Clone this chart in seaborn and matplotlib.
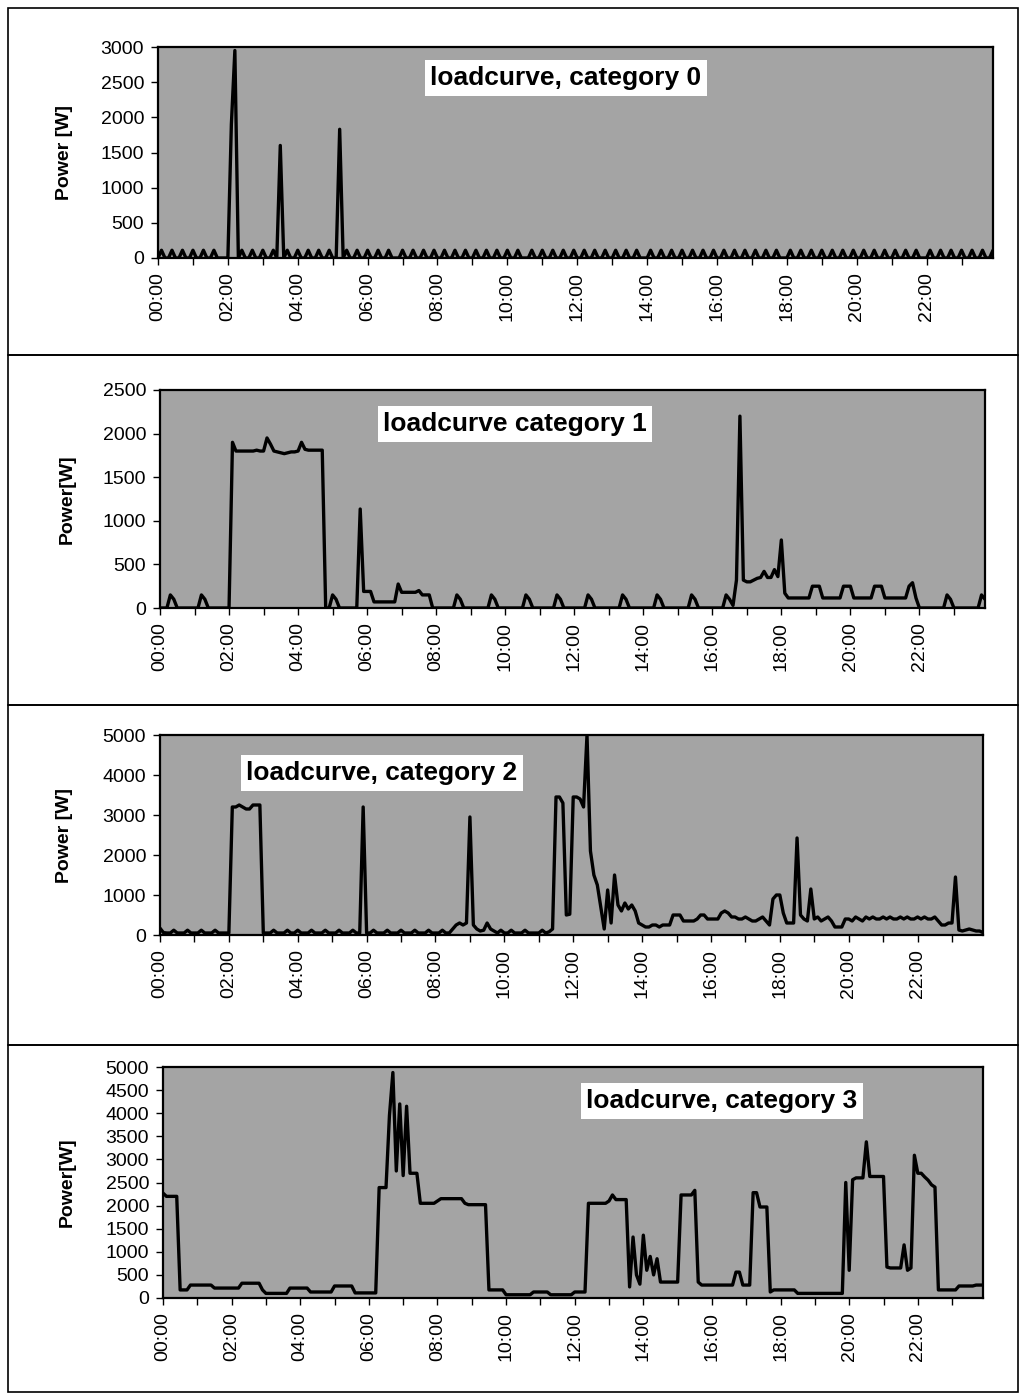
import numpy as np
import pandas as pd
import matplotlib
matplotlib.use("Agg")
import matplotlib.pyplot as plt
import seaborn as sns
from matplotlib.patches import Rectangle

# ---------------- data (6-minute samples, one row = one hour) ----------------
SAMPLE_MINUTES = list(range(0, 1440, 6))
HOUR_LABELS = ["00:00", "02:00", "04:00", "06:00", "08:00", "10:00",
               "12:00", "14:00", "16:00", "18:00", "20:00", "22:00"]

TITLES = ["loadcurve, category 0", "loadcurve category 1",
          "loadcurve, category 2", "loadcurve, category 3"]
YLABELS = ["Power [W]", "Power[W]", "Power [W]", "Power[W]"]
YMAX = [3000, 2500, 5000, 5000]
YSTEP = [500, 500, 1000, 500]

cat0 = [
    0, 110, 0, 0, 110, 0, 0, 110, 0, 0,
    110, 0, 0, 110, 0, 0, 110, 0, 0, 0,
    0, 1900, 2950, 0, 110, 0, 0, 110, 0, 0,
    110, 0, 0, 110, 0, 1600, 0, 110, 0, 0,
    110, 0, 0, 110, 0, 0, 110, 0, 0, 110,
    0, 0, 1830, 0, 110, 0, 0, 110, 0, 0,
    110, 0, 0, 110, 0, 0, 110, 0, 0, 0,
    110, 0, 0, 110, 0, 0, 110, 0, 0, 110,
    0, 0, 110, 0, 0, 110, 0, 0, 110, 0,
    0, 110, 0, 0, 110, 0, 0, 110, 0, 0,
    110, 0, 0, 110, 0, 0, 0, 110, 0, 0,
    110, 0, 0, 110, 0, 0, 110, 0, 0, 110,
    0, 0, 110, 0, 0, 110, 0, 0, 110, 0,
    0, 110, 0, 0, 110, 0, 0, 110, 0, 0,
    0, 110, 0, 0, 110, 0, 0, 110, 0, 0,
    110, 0, 0, 110, 0, 0, 110, 0, 0, 110,
    0, 0, 110, 0, 0, 110, 0, 0, 110, 0,
    0, 110, 0, 0, 110, 0, 0, 110, 0, 0,
    0, 110, 0, 0, 110, 0, 0, 110, 0, 0,
    110, 0, 0, 110, 0, 0, 110, 0, 0, 110,
    0, 0, 110, 0, 0, 110, 0, 0, 110, 0,
    0, 110, 0, 0, 110, 0, 0, 110, 0, 0,
    0, 110, 0, 0, 110, 0, 0, 110, 0, 0,
    110, 0, 0, 110, 0, 0, 110, 0, 0, 110,
]

cat1 = [
    0, 0, 0, 150, 100, 0, 0, 0, 0, 0,
    0, 0, 150, 100, 0, 0, 0, 0, 0, 0,
    0, 1900, 1800, 1800, 1800, 1800, 1800, 1800, 1810, 1800,
    1800, 1950, 1880, 1800, 1790, 1780, 1770, 1780, 1790, 1790,
    1800, 1900, 1820, 1810, 1810, 1810, 1810, 1810, 0, 0,
    150, 100, 0, 0, 0, 0, 0, 0, 1135, 190,
    190, 190, 70, 70, 70, 70, 70, 70, 70, 275,
    180, 180, 180, 180, 180, 200, 150, 150, 150, 0,
    0, 0, 0, 0, 0, 0, 150, 100, 0, 0,
    0, 0, 0, 0, 0, 0, 150, 100, 0, 0,
    0, 0, 0, 0, 0, 0, 150, 100, 0, 0,
    0, 0, 0, 0, 0, 150, 100, 0, 0, 0,
    0, 0, 0, 0, 150, 100, 0, 0, 0, 0,
    0, 0, 0, 0, 150, 100, 0, 0, 0, 0,
    0, 0, 0, 0, 150, 100, 0, 0, 0, 0,
    0, 0, 0, 0, 150, 100, 0, 0, 0, 0,
    0, 0, 0, 0, 150, 100, 30, 320, 2200, 320,
    300, 300, 320, 340, 350, 420, 350, 350, 440, 360,
    780, 170, 115, 115, 115, 115, 115, 115, 115, 250,
    250, 250, 115, 115, 115, 115, 115, 115, 250, 250,
    250, 115, 115, 115, 115, 115, 115, 250, 250, 250,
    115, 115, 115, 115, 115, 115, 115, 250, 290, 115,
    0, 0, 0, 0, 0, 0, 0, 0, 150, 100,
    0, 0, 0, 0, 0, 0, 0, 0, 150, 100,
]

cat2 = [
    170, 60, 50, 50, 120, 50, 50, 50, 120, 50,
    50, 50, 120, 50, 50, 50, 120, 50, 50, 50,
    50, 3200, 3200, 3250, 3200, 3150, 3150, 3250, 3250, 3250,
    50, 50, 50, 120, 50, 50, 50, 120, 50, 50,
    120, 50, 50, 50, 120, 50, 50, 50, 120, 50,
    50, 50, 120, 50, 50, 50, 120, 50, 50, 3200,
    50, 50, 120, 50, 50, 50, 120, 50, 50, 50,
    120, 50, 50, 50, 120, 50, 50, 50, 120, 50,
    50, 50, 120, 50, 50, 150, 250, 300, 250, 300,
    2950, 250, 150, 100, 120, 300, 150, 100, 50, 120,
    50, 50, 120, 50, 50, 50, 120, 50, 50, 50,
    50, 120, 50, 80, 150, 3450, 3450, 3300, 500, 520,
    3450, 3450, 3400, 3200, 5000, 2100, 1500, 1250, 700, 150,
    1125, 300, 1500, 750, 600, 800, 650, 750, 600, 300,
    250, 200, 200, 250, 250, 200, 250, 250, 250, 500,
    500, 500, 350, 350, 350, 350, 400, 500, 500, 400,
    400, 400, 400, 550, 600, 550, 450, 450, 400, 400,
    450, 400, 350, 350, 400, 450, 350, 250, 900, 1000,
    1000, 550, 300, 300, 300, 2425, 500, 400, 350, 1150,
    400, 450, 350, 400, 450, 350, 200, 200, 200, 400,
    400, 350, 450, 400, 350, 450, 400, 450, 400, 400,
    450, 400, 450, 400, 400, 450, 400, 450, 400, 400,
    450, 400, 450, 400, 400, 450, 350, 250, 250, 300,
    300, 1450, 125, 100, 125, 150, 125, 100, 100, 60,
]

cat3 = [
    2270, 2200, 2200, 2200, 2200, 175, 175, 175, 280, 280,
    280, 280, 280, 280, 280, 215, 215, 215, 215, 215,
    215, 215, 215, 320, 320, 320, 320, 320, 320, 175,
    100, 100, 100, 100, 100, 100, 100, 215, 215, 215,
    215, 215, 215, 130, 130, 130, 130, 130, 130, 130,
    260, 260, 260, 260, 260, 260, 110, 110, 110, 110,
    110, 110, 110, 2390, 2390, 2390, 3950, 4880, 2750, 4200,
    2650, 4150, 2700, 2700, 2700, 2050, 2050, 2050, 2050, 2050,
    2100, 2150, 2150, 2150, 2150, 2150, 2150, 2150, 2050, 2020,
    2020, 2020, 2020, 2020, 2020, 175, 175, 175, 175, 175,
    70, 70, 70, 70, 70, 70, 70, 70, 130, 130,
    130, 130, 130, 70, 70, 70, 70, 70, 70, 70,
    130, 130, 130, 130, 2050, 2050, 2050, 2050, 2050, 2050,
    2100, 2230, 2130, 2130, 2130, 2130, 240, 1320, 500, 300,
    1360, 600, 900, 500, 850, 345, 345, 345, 345, 345,
    345, 2230, 2230, 2230, 2230, 2330, 345, 280, 280, 280,
    280, 280, 280, 280, 280, 280, 280, 560, 560, 280,
    280, 280, 2280, 2280, 1970, 1970, 1970, 130, 175, 175,
    175, 175, 175, 175, 175, 100, 100, 100, 100, 100,
    100, 100, 100, 100, 100, 100, 100, 100, 100, 2500,
    600, 2560, 2600, 2600, 2600, 3380, 2630, 2630, 2630, 2630,
    2630, 670, 650, 650, 650, 650, 1150, 600, 650, 3090,
    2700, 2700, 2620, 2550, 2450, 2400, 175, 175, 175, 175,
    175, 175, 260, 260, 260, 260, 260, 280, 280, 280,
]

SERIES = [cat0, cat1, cat2, cat3]

# ---------------- layout (pixels of the 1020x1393 canvas) ----------------
W, H = 1020, 1393
AX_PX = [(158, 47, 993, 258), (160, 390, 985, 608),
         (160, 735, 983, 935), (163, 1067, 983, 1298)]
TITLE_PX = [(566, 78), (515, 424), (382, 773), (722, 1101)]
YLABEL_X = [73, 76, 73, 76]
PANEL_EDGES = [8, 355, 705, 1045, 1392]

sns.set_theme(style="white")
plt.rcParams["font.family"] = ["Liberation Sans", "DejaVu Sans"]

fig = plt.figure(figsize=(W / 100, H / 100), dpi=100)
fig.patch.set_facecolor("white")

# panel frames
for i in range(4):
    top, bot = PANEL_EDGES[i], PANEL_EDGES[i + 1]
    fig.add_artist(Rectangle((8 / W, 1 - bot / H), (1018 - 8) / W, (bot - top) / H,
                             transform=fig.transFigure, fill=False,
                             edgecolor="black", linewidth=1.2))

hours = [m / 60 for m in SAMPLE_MINUTES]

for i in range(4):
    l, t, r, b = AX_PX[i]
    ax = fig.add_axes([l / W, 1 - b / H, (r - l) / W, (b - t) / H])
    ax.set_facecolor("#a4a4a4")
    df = pd.DataFrame({"hour": hours, "power": SERIES[i]})
    sns.lineplot(data=df, x="hour", y="power", ax=ax, color="black",
                 linewidth=2.4, estimator=None)
    ax.set_xlim(0, 23.9)
    ax.set_ylim(0, YMAX[i])
    ax.set_yticks(np.arange(0, YMAX[i] + 1, YSTEP[i]))
    ax.set_xticks(np.arange(0, 24, 1))
    ax.set_xticklabels([HOUR_LABELS[h // 2] if h % 2 == 0 else "" for h in range(24)],
                       rotation=90)
    ax.tick_params(axis="both", direction="out", length=5, width=1,
                   colors="black", labelsize=14, bottom=True, left=True)
    ax.tick_params(axis="y", pad=5)
    ax.tick_params(axis="x", pad=5)
    for sp in ax.spines.values():
        sp.set_visible(True)
        sp.set_color("black")
        sp.set_linewidth(1.6)
    ax.set_xlabel("")
    ax.set_ylabel(YLABELS[i], fontsize=14, fontweight="bold", color="black")
    ax.yaxis.set_label_coords((YLABEL_X[i] - l) / (r - l), 0.5)
    tx, ty = TITLE_PX[i]
    ax.text((tx - l) / (r - l), (b - ty) / (b - t), TITLES[i],
            transform=ax.transAxes, ha="center", va="center",
            fontsize=19, fontweight="bold", color="black",
            bbox=dict(facecolor="white", edgecolor="none", pad=4))
    ax.grid(False)

fig.savefig("out.png", dpi=100)
